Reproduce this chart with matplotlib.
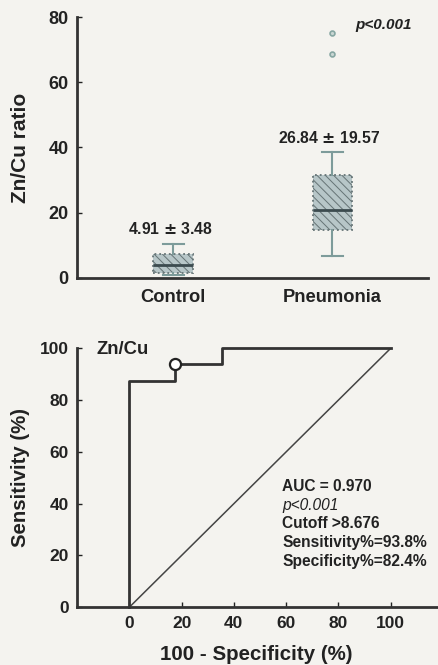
import matplotlib
matplotlib.use("Agg")
import matplotlib.pyplot as plt

plt.rcParams["font.family"] = ["Liberation Sans", "DejaVu Sans"]
plt.rcParams["font.weight"] = "bold"
plt.rcParams["axes.labelweight"] = "bold"
plt.rcParams["hatch.color"] = "#a7b7ba"
plt.rcParams["hatch.linewidth"] = 0.7

# --- box plot data ---
groups = ["Control", "Pneumonia"]
q1 = [1.5, 14.6]
med = [3.9, 20.8]
q3 = [7.3, 31.6]
wlo = [0.9, 6.8]
whi = [10.3, 38.5]
outliers = [[], [68.6, 75.3]]
mean_sd = ["4.91 $\\pm$ 3.48", "26.84 $\\pm$ 19.57"]
label_y = [15.0, 43.0]

# --- ROC data ---
fpr = [0, 0, 17.6, 17.6, 35.3, 35.3, 100]
tpr = [0, 87.5, 87.5, 93.75, 93.75, 100, 100]
cut_fpr, cut_tpr = 17.6, 93.8
roc_text = ["AUC = 0.970", "p<0.001", "Cutoff >8.676",
            "Sensitivity%=93.8%", "Specificity%=82.4%"]
roc_style = ["normal", "italic", "normal", "normal", "normal"]
roc_weight = ["bold", "normal", "bold", "bold", "bold"]

INK = "#222222"
BG = "#f4f3ef"

fig = plt.figure(figsize=(4.38, 6.65), dpi=100, facecolor=BG)

# ---------------- top: box plot ----------------
ax1 = fig.add_axes([0.1758, 0.5824, 0.8014, 0.3916], facecolor=BG)
stats = []
for i, g in enumerate(groups):
    stats.append(dict(label=g, q1=q1[i], med=med[i], q3=q3[i],
                      whislo=wlo[i], whishi=whi[i], fliers=outliers[i]))
pos = [1, 2]
ax1.bxp(stats, positions=pos, widths=0.25, patch_artist=True,
        boxprops=dict(facecolor="#b7c6c8", edgecolor="#667476",
                      linestyle=":", linewidth=1.3, hatch="\\\\\\\\"),
        medianprops=dict(color="#3c4b4f", linewidth=2),
        whiskerprops=dict(color="#7d9b9a", linewidth=1.5),
        capprops=dict(color="#7d9b9a", linewidth=1.5),
        capwidths=0.13,
        flierprops=dict(marker="o", markersize=3.5, markerfacecolor="#c9d6d3",
                        markeredgecolor="#86a6a2", markeredgewidth=1.2))
for p, t, y in zip(pos, mean_sd, label_y):
    ax1.text(p - 0.02, y, t, ha="center", va="center", fontsize=11.3, color=INK)
ax1.text(2.32, 77.6, "p<0.001", ha="center", va="center", fontsize=11,
         style="italic", color=INK)
ax1.set_xlim(0.395, 2.6)
ax1.set_ylim(0, 80)
ax1.set_yticks([0, 20, 40, 60, 80])
ax1.set_xticks(pos)
ax1.set_xticklabels(groups, fontsize=13.2)
ax1.set_ylabel("Zn/Cu ratio", fontsize=15, color=INK)
ax1.yaxis.set_label_coords(-0.134, 0.5)
ax1.tick_params(axis="y", direction="in", length=3.5, width=1, pad=6,
                labelsize=13, colors=INK)
ax1.tick_params(axis="x", length=0, pad=8, colors=INK)
for s in ["top", "right"]:
    ax1.spines[s].set_visible(False)
for s in ["left", "bottom"]:
    ax1.spines[s].set_linewidth(2)
    ax1.spines[s].set_color("#333333")

# ---------------- bottom: ROC curve ----------------
ax2 = fig.add_axes([0.1758, 0.0868, 0.8219, 0.3895], facecolor=BG)
ax2.plot([0, 100], [0, 100], color="#444444", linewidth=1.1)
ax2.plot(fpr, tpr, color="#333333", linewidth=2, clip_on=False)
ax2.plot([cut_fpr], [cut_tpr], marker="o", markersize=8, markerfacecolor="white",
         markeredgecolor="#222222", markeredgewidth=1.6, clip_on=False, zorder=5)
ax2.text(-12.5, 99.5, "Zn/Cu", ha="left", va="center", fontsize=13.3, color=INK)
for k, (line, st, wt) in enumerate(zip(roc_text, roc_style, roc_weight)):
    ax2.text(58.5, 46.6 - 7.2 * k, line, ha="left", va="center",
             fontsize=11.2, style=st, fontweight=wt, color=INK)
ax2.set_xlim(-20, 117.7)
ax2.set_ylim(0, 100)
ax2.set_xticks([0, 20, 40, 60, 80, 100])
ax2.set_yticks([0, 20, 40, 60, 80, 100])
ax2.set_xlabel("100 - Specificity (%)", fontsize=14.8, color=INK)
ax2.set_ylabel("Sensitivity (%)", fontsize=14.7, color=INK)
ax2.xaxis.set_label_coords(0.497, -0.145)
ax2.yaxis.set_label_coords(-0.13, 0.5)
ax2.tick_params(direction="in", length=3.5, width=1, pad=6, labelsize=12.5,
                colors=INK)
for s in ["top", "right"]:
    ax2.spines[s].set_visible(False)
for s in ["left", "bottom"]:
    ax2.spines[s].set_linewidth(2)
    ax2.spines[s].set_color("#333333")

fig.savefig("out.png", dpi=100, facecolor=BG)
